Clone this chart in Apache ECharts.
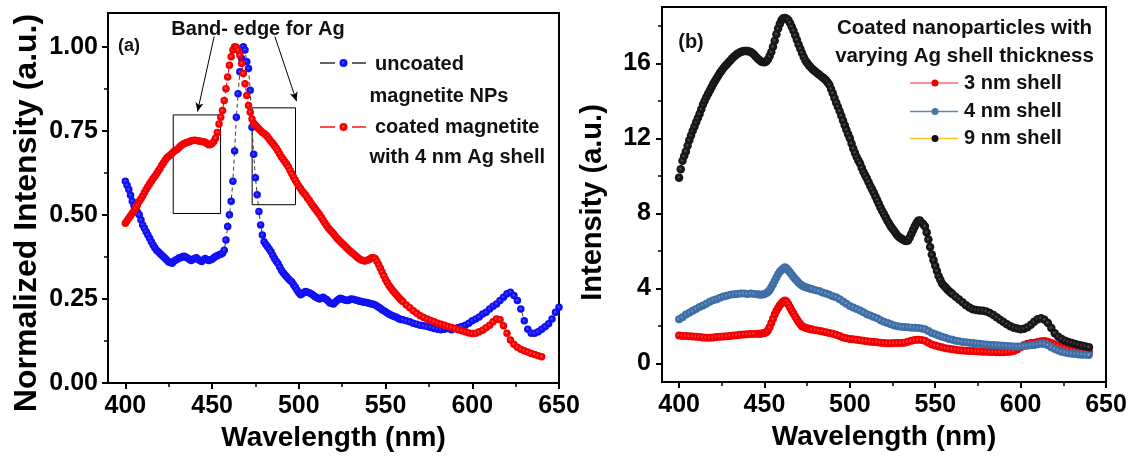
<!DOCTYPE html>
<html>
<head>
<meta charset="utf-8">
<script src="https://cdn.jsdelivr.net/npm/echarts@6/dist/echarts.min.js"></script>
<style>
  html, body { margin: 0; padding: 0; background: #fff; }
  #chart { width: 1135px; height: 462px; }
</style>
</head>
<body>
<div id="chart"></div>
<script>
// ---------- panel (a): normalized PL spectra ----------
// 1 nm steps up to 560 nm, 2 nm steps after
const waveA = [
  400, 401, 402, 403, 404, 405, 406, 407, 408, 409,
  410, 411, 412, 413, 414, 415, 416, 417, 418, 419,
  420, 421, 422, 423, 424, 425, 426, 427, 428, 429,
  430, 431, 432, 433, 434, 435, 436, 437, 438, 439,
  440, 441, 442, 443, 444, 445, 446, 447, 448, 449,
  450, 451, 452, 453, 454, 455, 456, 457, 458, 459,
  460, 461, 462, 463, 464, 465, 466, 467, 468, 469,
  470, 471, 472, 473, 474, 475, 476, 477, 478, 479,
  480, 481, 482, 483, 484, 485, 486, 487, 488, 489,
  490, 491, 492, 493, 494, 495, 496, 497, 498, 499,
  500, 501, 502, 503, 504, 505, 506, 507, 508, 509,
  510, 511, 512, 513, 514, 515, 516, 517, 518, 519,
  520, 521, 522, 523, 524, 525, 526, 527, 528, 529,
  530, 531, 532, 533, 534, 535, 536, 537, 538, 539,
  540, 541, 542, 543, 544, 545, 546, 547, 548, 549,
  550, 551, 552, 553, 554, 555, 556, 557, 558, 559,
  560,
  562, 564, 566, 568, 570, 572, 574, 576, 578, 580,
  582, 584, 586, 588, 590, 592, 594, 596, 598, 600,
  602, 604, 606, 608, 610, 612, 614, 616, 618, 620,
  622, 624, 626, 628, 630, 632, 634, 636, 638, 640,
  642, 644, 646, 648, 650
];
const uncoatedNP = [
  0.600, 0.588, 0.575, 0.558, 0.540, 0.528, 0.515, 0.508, 0.500, 0.485,
  0.470, 0.460, 0.450, 0.440, 0.430, 0.420, 0.410, 0.402, 0.395, 0.390,
  0.385, 0.380, 0.375, 0.370, 0.365, 0.360, 0.358, 0.356, 0.362, 0.366,
  0.368, 0.372, 0.372, 0.376, 0.377, 0.374, 0.371, 0.367, 0.364, 0.368,
  0.370, 0.372, 0.367, 0.364, 0.361, 0.366, 0.370, 0.367, 0.364, 0.366,
  0.368, 0.372, 0.376, 0.378, 0.381, 0.383, 0.386, 0.395, 0.425, 0.465,
  0.500, 0.540, 0.600, 0.690, 0.790, 0.860, 0.925, 0.965, 1.000, 0.990,
  0.955, 0.935, 0.870, 0.760, 0.680, 0.610, 0.560, 0.510, 0.470, 0.440,
  0.420, 0.412, 0.405, 0.398, 0.390, 0.380, 0.370, 0.362, 0.355, 0.345,
  0.335, 0.328, 0.322, 0.316, 0.310, 0.305, 0.300, 0.292, 0.285, 0.276,
  0.268, 0.262, 0.265, 0.270, 0.272, 0.270, 0.268, 0.265, 0.262, 0.258,
  0.255, 0.252, 0.250, 0.253, 0.255, 0.251, 0.248, 0.243, 0.238, 0.236,
  0.235, 0.240, 0.245, 0.249, 0.252, 0.250, 0.248, 0.246, 0.245, 0.247,
  0.250, 0.249, 0.248, 0.246, 0.245, 0.243, 0.242, 0.241, 0.240, 0.239,
  0.238, 0.236, 0.235, 0.234, 0.232, 0.229, 0.225, 0.222, 0.218, 0.215,
  0.212, 0.208, 0.205, 0.202, 0.200, 0.198, 0.196, 0.193, 0.190, 0.189,
  0.188,
  0.185, 0.182, 0.178, 0.175, 0.172, 0.170, 0.168, 0.165, 0.162, 0.160,
  0.158, 0.160, 0.162, 0.158, 0.162, 0.165, 0.168, 0.172, 0.178, 0.185,
  0.190, 0.196, 0.205, 0.210, 0.220, 0.228, 0.235, 0.245, 0.255, 0.265,
  0.270, 0.260, 0.245, 0.220, 0.185, 0.160, 0.148, 0.148, 0.152, 0.160,
  0.167, 0.176, 0.190, 0.210, 0.225
];
// coated sample stops at 640 nm (first 201 wavelengths of waveA)
const coatedAg4nm = [
  0.475, 0.482, 0.490, 0.497, 0.505, 0.512, 0.520, 0.530, 0.540, 0.548,
  0.556, 0.566, 0.575, 0.584, 0.592, 0.600, 0.608, 0.615, 0.622, 0.630,
  0.638, 0.647, 0.655, 0.663, 0.670, 0.674, 0.678, 0.683, 0.688, 0.692,
  0.695, 0.700, 0.705, 0.709, 0.712, 0.714, 0.716, 0.718, 0.720, 0.721,
  0.722, 0.721, 0.720, 0.719, 0.718, 0.717, 0.716, 0.712, 0.708, 0.709,
  0.712, 0.718, 0.728, 0.745, 0.770, 0.790, 0.810, 0.840, 0.875, 0.910,
  0.945, 0.970, 0.990, 1.000, 0.998, 0.990, 0.975, 0.950, 0.920, 0.890,
  0.855, 0.825, 0.805, 0.785, 0.772, 0.766, 0.760, 0.755, 0.750, 0.745,
  0.742, 0.737, 0.732, 0.725, 0.718, 0.712, 0.705, 0.698, 0.690, 0.681,
  0.672, 0.665, 0.658, 0.650, 0.642, 0.632, 0.622, 0.612, 0.603, 0.594,
  0.585, 0.578, 0.570, 0.564, 0.558, 0.550, 0.543, 0.535, 0.528, 0.521,
  0.514, 0.507, 0.500, 0.492, 0.484, 0.476, 0.468, 0.461, 0.455, 0.450,
  0.444, 0.437, 0.430, 0.425, 0.420, 0.415, 0.410, 0.405, 0.400, 0.395,
  0.390, 0.386, 0.382, 0.377, 0.372, 0.369, 0.366, 0.364, 0.363, 0.364,
  0.366, 0.369, 0.372, 0.372, 0.370, 0.362, 0.352, 0.341, 0.330, 0.319,
  0.308, 0.299, 0.290, 0.283, 0.276, 0.270, 0.264, 0.258, 0.252, 0.247,
  0.242,
  0.232, 0.224, 0.215, 0.207, 0.200, 0.195, 0.190, 0.186, 0.182, 0.178,
  0.175, 0.172, 0.168, 0.165, 0.162, 0.158, 0.155, 0.152, 0.149, 0.147,
  0.148, 0.152, 0.157, 0.164, 0.172, 0.182, 0.190, 0.188, 0.170, 0.148,
  0.128, 0.115, 0.106, 0.100, 0.096, 0.092, 0.088, 0.085, 0.081, 0.078
];

// ---------- panel (b): shell-thickness series ----------
// wavelengths shared by the 3 nm and 4 nm shells (finer around the 462 nm peak)
const waveThin = [
  400, 402, 404, 406, 408, 410, 412, 414, 416, 418,
  420, 422, 424, 426, 428, 430, 432, 434, 436, 438,
  440, 442, 444,
  446, 447, 448, 449, 450, 451, 452, 453, 454, 455,
  456, 457, 458, 459, 460, 461, 462, 463, 464, 465,
  466, 467, 468, 469, 470, 471, 472, 473, 474, 475,
  476, 477, 478,
  480, 482, 484, 486, 488, 490, 492, 494, 496, 498,
  500, 502, 504, 506, 508, 510, 512, 514, 516, 518,
  520, 522, 524, 526, 528, 530, 532, 534, 536, 538,
  540, 542, 544, 546, 548, 550, 552, 554, 556, 558,
  560, 562, 564, 566, 568, 570, 572, 574, 576, 578,
  580, 582, 584, 586, 588, 590, 592, 594, 596, 598,
  600, 602, 604, 606, 608, 610, 612, 614, 616, 618,
  620, 622, 624, 626, 628, 630, 632, 634, 636, 638,
  640
];
const shell3nm = [
  1.48, 1.46, 1.45, 1.44, 1.43, 1.42, 1.40, 1.38, 1.36, 1.36,
  1.38, 1.40, 1.42, 1.43, 1.44, 1.46, 1.48, 1.50, 1.52, 1.54,
  1.55, 1.56, 1.56,
  1.57, 1.57, 1.58, 1.60, 1.62, 1.66, 1.75, 1.92, 2.15, 2.38,
  2.60, 2.80, 2.95, 3.10, 3.20, 3.30, 3.35, 3.28, 3.15, 2.98,
  2.80, 2.65, 2.50, 2.35, 2.20, 2.08, 1.98, 1.93, 1.90, 1.87,
  1.84, 1.82, 1.80,
  1.76, 1.74, 1.70, 1.66, 1.62, 1.58, 1.52, 1.45, 1.38, 1.33,
  1.30, 1.28, 1.25, 1.23, 1.20, 1.18, 1.15, 1.13, 1.12, 1.10,
  1.08, 1.07, 1.07, 1.08, 1.08, 1.08, 1.10, 1.15, 1.20, 1.24,
  1.25, 1.24, 1.20, 1.10, 1.00, 0.95, 0.90, 0.85, 0.80, 0.77,
  0.75, 0.72, 0.70, 0.68, 0.67, 0.66, 0.65, 0.64, 0.63, 0.62,
  0.61, 0.60, 0.60, 0.59, 0.59, 0.59, 0.60, 0.62, 0.66, 0.74,
  0.85, 0.97, 1.04, 1.08, 1.10, 1.14, 1.18, 1.19, 1.15, 1.08,
  1.00, 0.93, 0.87, 0.82, 0.77, 0.73, 0.70, 0.68, 0.66, 0.64,
  0.63
];
const shell4nm = [
  2.35, 2.45, 2.60, 2.70, 2.80, 2.90, 3.00, 3.08, 3.18, 3.28,
  3.36, 3.42, 3.50, 3.56, 3.60, 3.65, 3.68, 3.70, 3.72, 3.72,
  3.70, 3.72, 3.70,
  3.68, 3.67, 3.66, 3.67, 3.70, 3.74, 3.80, 3.90, 4.05, 4.22,
  4.40, 4.58, 4.75, 4.88, 4.98, 5.06, 5.12, 5.05, 4.95, 4.84,
  4.72, 4.60, 4.50, 4.40, 4.30, 4.22, 4.15, 4.10, 4.07, 4.03,
  4.00, 3.97, 3.95,
  3.90, 3.85, 3.78, 3.72, 3.65, 3.58, 3.52, 3.42, 3.30, 3.18,
  3.05, 2.98, 2.90, 2.82, 2.72, 2.62, 2.55, 2.47, 2.40, 2.30,
  2.22, 2.15, 2.08, 2.02, 1.98, 1.95, 1.93, 1.92, 1.90, 1.90,
  1.88, 1.86, 1.82, 1.72, 1.62, 1.55, 1.48, 1.42, 1.36, 1.30,
  1.25, 1.20, 1.17, 1.14, 1.12, 1.10, 1.08, 1.06, 1.04, 1.02,
  1.00, 0.98, 0.97, 0.96, 0.95, 0.94, 0.92, 0.91, 0.90, 0.89,
  0.90, 0.92, 0.94, 0.96, 0.98, 1.01, 1.04, 1.03, 0.96, 0.86,
  0.76, 0.68, 0.62, 0.57, 0.54, 0.51, 0.49, 0.47, 0.46, 0.45,
  0.44
];
// 9 nm shell: 1 nm steps through the steep part, 2 nm after 560 nm
const waveThick = [
  400, 401, 402, 403, 404, 405, 406, 407, 408, 409,
  410, 411, 412, 413, 414, 415, 416, 417, 418, 419,
  420, 421, 422, 423, 424, 425, 426, 427, 428, 429,
  430, 431, 432, 433, 434, 435, 436, 437, 438, 439,
  440, 441, 442, 443, 444, 445, 446, 447, 448, 449,
  450, 451, 452, 453, 454, 455, 456, 457, 458, 459,
  460, 461, 462, 463, 464, 465, 466, 467, 468, 469,
  470, 471, 472, 473, 474, 475, 476, 477, 478, 479,
  480, 481, 482, 483, 484, 485, 486, 487, 488, 489,
  490, 491, 492, 493, 494, 495, 496, 497, 498, 499,
  500, 501, 502, 503, 504, 505, 506, 507, 508, 509,
  510, 511, 512, 513, 514, 515, 516, 517, 518, 519,
  520, 521, 522, 523, 524, 525, 526, 527, 528, 529,
  530, 531, 532, 533, 534, 535, 536, 537, 538, 539,
  540, 541, 542, 543, 544, 545, 546, 547, 548, 549,
  550, 551, 552, 553, 554, 555, 556, 557, 558, 559,
  560,
  562, 564, 566, 568, 570, 572, 574, 576, 578,
  580, 582, 584, 586, 588, 590, 592, 594, 596, 598,
  600, 602, 604, 606, 608, 610, 612, 614, 616, 618,
  620, 622, 624, 626, 628, 630, 632, 634, 636, 638,
  640
];
const shell9nm = [
  9.90, 10.35, 10.80, 11.05, 11.30, 11.60, 11.90, 12.15, 12.40, 12.62,
  12.85, 13.08, 13.30, 13.55, 13.80, 14.00, 14.20, 14.38, 14.55, 14.72,
  14.90, 15.05, 15.20, 15.35, 15.50, 15.62, 15.75, 15.85, 15.95, 16.05,
  16.15, 16.25, 16.35, 16.42, 16.50, 16.55, 16.60, 16.63, 16.65, 16.66,
  16.65, 16.63, 16.60, 16.53, 16.45, 16.35, 16.25, 16.17, 16.10, 16.07,
  16.05, 16.10, 16.20, 16.38, 16.60, 16.88, 17.20, 17.55, 17.85, 18.10,
  18.30, 18.40, 18.42, 18.38, 18.30, 18.15, 17.95, 17.73, 17.50, 17.25,
  17.00, 16.77, 16.55, 16.33, 16.15, 16.02, 15.90, 15.80, 15.70, 15.62,
  15.55, 15.47, 15.40, 15.32, 15.25, 15.18, 15.10, 14.98, 14.85, 14.63,
  14.40, 14.15, 13.90, 13.68, 13.45, 13.20, 12.95, 12.70, 12.45, 12.22,
  12.00, 11.72, 11.45, 11.22, 11.00, 10.82, 10.65, 10.42, 10.20, 10.02,
  9.85, 9.65, 9.45, 9.28, 9.10, 8.90, 8.70, 8.50, 8.30, 8.12,
  7.95, 7.78, 7.60, 7.45, 7.30, 7.17, 7.05, 6.92, 6.80, 6.72,
  6.65, 6.60, 6.55, 6.52, 6.55, 6.70, 6.90, 7.10, 7.30, 7.48,
  7.60, 7.62, 7.50, 7.42, 7.30, 6.98, 6.60, 6.20, 5.80, 5.50,
  5.20, 4.92, 4.65, 4.45, 4.25, 4.15, 4.05, 3.95, 3.85, 3.78,
  3.70,
  3.55, 3.40, 3.25, 3.10, 2.98, 2.88, 2.84, 2.82, 2.80,
  2.76, 2.68, 2.58, 2.45, 2.32, 2.20, 2.08, 1.98, 1.90, 1.85,
  1.82, 1.84, 1.92, 2.05, 2.22, 2.35, 2.40, 2.32, 2.15, 1.88,
  1.60, 1.42, 1.30, 1.20, 1.13, 1.08, 1.03, 0.98, 0.94, 0.90,
  0.86
];

// ---------- tick positions ----------
const xTicks = [400, 450, 500, 550, 600, 650];
const xMinorTicks = [425, 475, 525, 575, 625];
const yTicksA = [0, 0.25, 0.5, 0.75, 1.0];
const yMinorTicksA = [0.125, 0.375, 0.625, 0.875];
const yTicksB = [0, 4, 8, 12, 16];
const yMinorTicksB = [2, 6, 10, 14, 18];

// ---------- annotation regions in panel (a), data units ----------
const bandEdgeBoxes = [
  { x: [427.6, 454.9], y: [0.504, 0.797] },
  { x: [473.1, 498.1], y: [0.530, 0.818] }
];
const bandEdgeArrows = [
  { from: [451.2, 1.030], to: [441.6, 0.807] },
  { from: [486.2, 1.030], to: [498.7, 0.838] }
];

const FONT = '"Liberation Sans", Arial, Helvetica, sans-serif';
const pairs = (xs, ys) => ys.map((v, i) => [xs[i], v]);
const dot = (inner, outer) => new echarts.graphic.RadialGradient(0.45, 0.45, 0.55, [
  { offset: 0, color: inner }, { offset: 0.45, color: outer }, { offset: 1, color: outer }
]);

const labelStyle = { color: '#000', fontSize: 25, fontWeight: 'bold', fontFamily: FONT };

function majorAxis(extra, ticks, position, margin, formatter) {
  const label = Object.assign({ margin: margin, customValues: ticks }, labelStyle);
  if (formatter) label.formatter = formatter;
  return Object.assign({
    type: 'value',
    position: position,
    axisLine: { show: true, onZero: false, lineStyle: { color: '#000', width: 2 } },
    axisTick: { show: true, length: 6, customValues: ticks, lineStyle: { color: '#000', width: 2 } },
    axisLabel: label,
    splitLine: { show: false }
  }, extra);
}
function minorAxis(extra, ticks, position) {
  return Object.assign({
    type: 'value',
    position: position,
    offset: 0,
    axisLine: { show: false, onZero: false },
    axisTick: { show: true, length: 4, customValues: ticks, lineStyle: { color: '#000', width: 1.5 } },
    axisLabel: { show: false },
    splitLine: { show: false }
  }, extra);
}
const nameStyle = (size, pad) => ({ fontSize: size, fontWeight: 'bold', fontFamily: FONT, color: '#000', padding: pad });

const chart = echarts.init(document.getElementById('chart'), null, { renderer: 'canvas' });

const option = {
  animation: false,
  backgroundColor: '#fff',
  grid: [
    { left: 108, top: 13, width: 451, height: 370, show: true, borderColor: '#000', borderWidth: 2, backgroundColor: 'transparent' },
    { left: 662, top: 7, width: 444, height: 375, show: true, borderColor: '#000', borderWidth: 2, backgroundColor: 'transparent' }
  ],
  xAxis: [
    majorAxis({
      gridIndex: 0, min: 390, max: 650,
      name: 'Wavelength (nm)', nameLocation: 'middle', nameGap: 40,
      nameTextStyle: nameStyle(28, 0)
    }, xTicks, 'bottom', 11),
    minorAxis({ gridIndex: 0, min: 390, max: 650 }, xMinorTicks, 'bottom'),
    majorAxis({
      gridIndex: 1, min: 390, max: 650,
      name: 'Wavelength (nm)', nameLocation: 'middle', nameGap: 41,
      nameTextStyle: nameStyle(28, 0)
    }, xTicks, 'bottom', 11),
    minorAxis({ gridIndex: 1, min: 390, max: 650 }, xMinorTicks, 'bottom')
  ],
  yAxis: [
    majorAxis({
      gridIndex: 0, min: 0, max: 1.1,
      name: 'Normalized Intensity (a.u.)', nameLocation: 'middle', nameGap: 65, nameRotate: 90,
      nameTextStyle: nameStyle(32, [0, 30, 0, 0])
    }, yTicksA, 'left', 10, v => v.toFixed(2)),
    minorAxis({ gridIndex: 0, min: 0, max: 1.1 }, yMinorTicksA, 'left'),
    majorAxis({
      gridIndex: 1, min: -1, max: 19,
      name: 'Intensity (a.u.)', nameLocation: 'middle', nameGap: 55, nameRotate: 90,
      nameTextStyle: nameStyle(29, [0, 16, 0, 0])
    }, yTicksB, 'left', 11),
    minorAxis({ gridIndex: 1, min: -1, max: 19 }, yMinorTicksB, 'left')
  ],
  series: [
    {
      name: 'uncoated magnetite NPs', type: 'line', xAxisIndex: 0, yAxisIndex: 0,
      data: pairs(waveA, uncoatedNP),
      symbol: 'circle', symbolSize: 7.5, showAllSymbol: true,
      itemStyle: { color: dot('#5a5aff', '#1010f4') },
      lineStyle: { color: '#3c3c3c', width: 1, type: [4, 3] },
      emphasis: { disabled: true }, silent: true
    },
    {
      name: 'coated magnetite with 4 nm Ag shell', type: 'line', xAxisIndex: 0, yAxisIndex: 0,
      data: pairs(waveA, coatedAg4nm),
      symbol: 'circle', symbolSize: 7.5, showAllSymbol: true,
      itemStyle: { color: dot('#ff6060', '#f40000') },
      lineStyle: { color: '#ff0000', width: 1, type: [4, 3] },
      emphasis: { disabled: true }, silent: true,
      markArea: {
        silent: true,
        itemStyle: { color: 'rgba(0,0,0,0)', borderColor: '#000', borderWidth: 1 },
        label: { show: false },
        data: bandEdgeBoxes.map(b => [
          { xAxis: b.x[0], yAxis: b.y[1] },
          { xAxis: b.x[1], yAxis: b.y[0] }
        ])
      },
      markLine: {
        silent: true, animation: false,
        symbol: ['none', 'arrow'], symbolSize: [6, 9],
        lineStyle: { color: '#000', width: 1, type: 'solid' },
        label: { show: false },
        data: bandEdgeArrows.map(a => [{ coord: a.from }, { coord: a.to }])
      }
    },
    {
      name: '3 nm shell', type: 'line', xAxisIndex: 2, yAxisIndex: 2,
      data: pairs(waveThin, shell3nm),
      symbol: 'circle', symbolSize: 8, showAllSymbol: true,
      itemStyle: { color: dot('#ff6a6a', '#f00000') },
      lineStyle: { color: '#ff6b6b', width: 1 },
      emphasis: { disabled: true }, silent: true
    },
    {
      name: '4 nm shell', type: 'line', xAxisIndex: 2, yAxisIndex: 2,
      data: pairs(waveThin, shell4nm),
      symbol: 'circle', symbolSize: 8, showAllSymbol: true,
      itemStyle: { color: dot('#8aa9d0', '#3f6ea6') },
      lineStyle: { color: '#5b86bd', width: 1 },
      emphasis: { disabled: true }, silent: true
    },
    {
      name: '9 nm shell', type: 'line', xAxisIndex: 2, yAxisIndex: 2,
      data: pairs(waveThick, shell9nm),
      symbol: 'circle', symbolSize: 8.5, showAllSymbol: true,
      itemStyle: { color: dot('#5a5a5a', '#161616') },
      lineStyle: { color: '#ffc41f', width: 1 },
      emphasis: { disabled: true }, silent: true
    }
  ],
  graphic: []
};

// text helpers for labels and hand-drawn legends
function txt(text, x, y, size, align) {
  return {
    type: 'text', silent: true, z: 100,
    style: {
      text: text, x: x, y: y, fill: '#111',
      font: 'bold ' + size + 'px ' + FONT,
      textAlign: align || 'left', align: align || 'left',
      textVerticalAlign: 'middle', verticalAlign: 'middle'
    }
  };
}
function seg(x1, x2, y, color, w) {
  return { type: 'line', silent: true, z: 100, shape: { x1: x1, y1: y, x2: x2, y2: y }, style: { stroke: color, lineWidth: w || 1.5 } };
}
function circ(cx, cy, r, fill) {
  return { type: 'circle', silent: true, z: 101, shape: { cx: cx, cy: cy, r: r }, style: { fill: fill } };
}

option.graphic = [
  // panel (a)
  txt('(a)', 129, 46, 18, 'center'),
  txt('Band- edge for Ag', 258, 29, 20, 'center'),
  seg(320, 335, 63, '#3c3c3c', 1.6), circ(343.5, 63, 4, dot('#5a5aff', '#1010f4')), seg(352, 366, 63, '#3c3c3c', 1.6),
  txt('uncoated', 375, 64, 20),
  txt('magnetite NPs', 369.5, 96.5, 20),
  seg(320, 335, 127, '#ff2020', 1.6), circ(343.5, 127, 4, dot('#ff6060', '#f40000')), seg(352, 366, 127, '#ff2020', 1.6),
  txt('coated magnetite', 375, 127, 20),
  txt('with 4 nm Ag shell', 369.5, 157, 20),
  // panel (b)
  txt('(b)', 691, 42.5, 20, 'center'),
  txt('Coated nanoparticles with', 964.5, 28.5, 20.5, 'center'),
  txt('varying Ag shell thickness', 964.5, 56.5, 20.5, 'center'),
  seg(910, 958, 83, '#ff6b6b', 1.6), circ(935, 83, 3.5, '#e80000'),
  txt('3 nm shell', 964, 83, 20),
  seg(910, 958, 111.5, '#5b86bd', 1.6), circ(935, 111.5, 3.5, '#4a74a8'),
  txt('4 nm shell', 964, 111.5, 20),
  seg(910, 958, 138.5, '#ffc41f', 1.6), circ(935, 138.5, 3.5, '#111'),
  txt('9 nm shell', 964, 138.5, 20)
];

chart.setOption(option);
</script>
</body>
</html>
